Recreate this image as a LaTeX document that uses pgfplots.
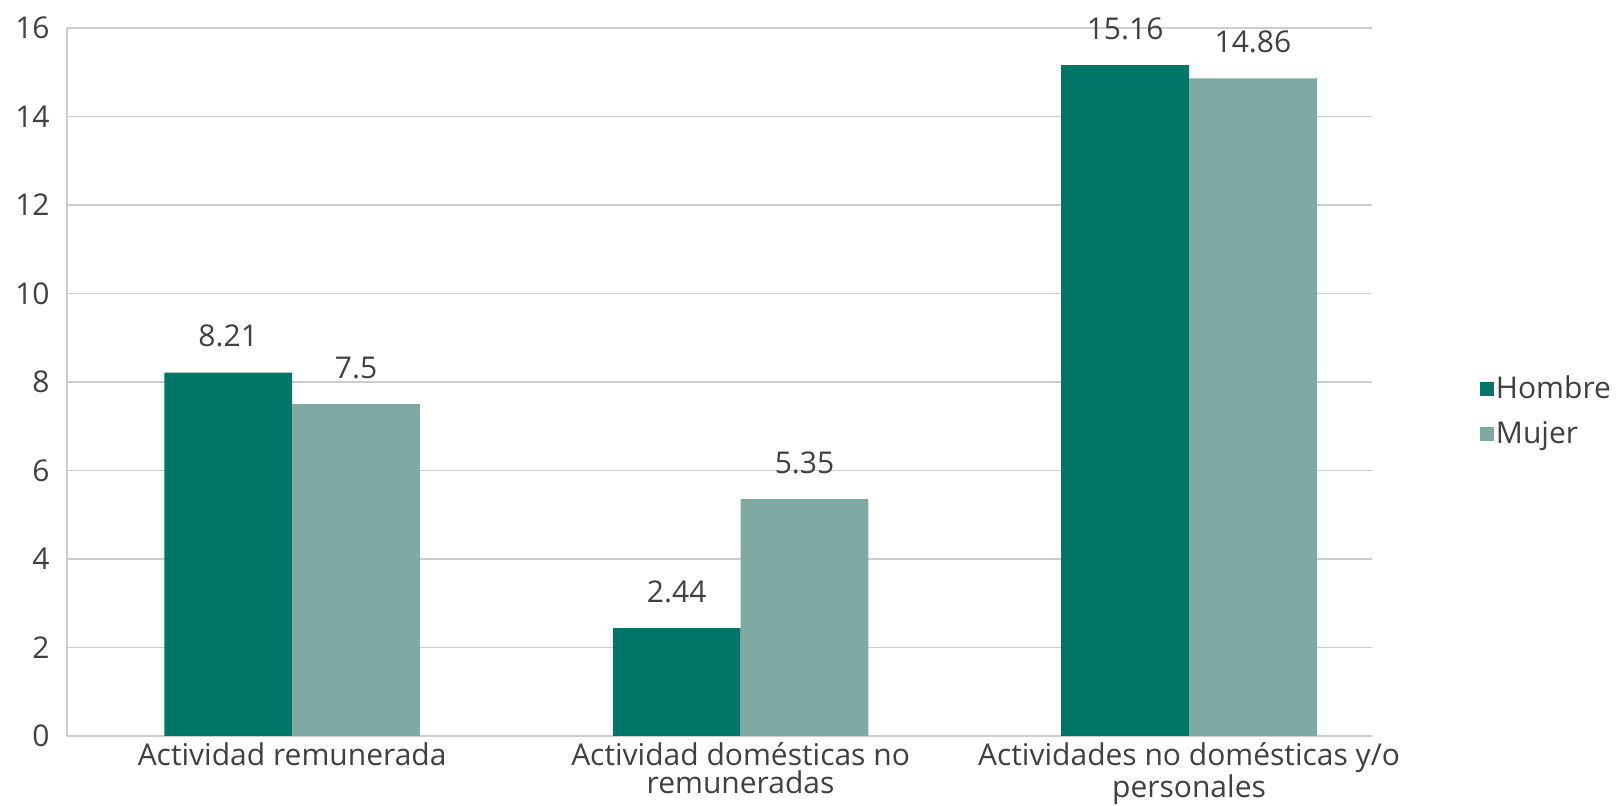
\documentclass[border=0pt]{standalone}
\usepackage{fontspec}
\setmainfont{Open Sans}
\usepackage{pgfplots}
\pgfplotsset{compat=1.18}
\definecolor{hombre}{RGB}{0,118,104}
\definecolor{mujer}{RGB}{127,170,164}
\definecolor{txt}{RGB}{64,64,64}
\definecolor{gridc}{RGB}{205,205,205}
\newcommand{\lblfont}{\fontsize{15}{14}\selectfont}
\begin{document}
\begin{tikzpicture}
\begin{axis}[
    at={(0pt,0pt)}, anchor=south west,
    scale only axis,
    width=652.5pt, height=354pt,
    xmin=-0.502, xmax=2.408,
    ymin=0, ymax=16,
    ytick={0,2,...,16},
    xtick={0,1,2},
    xticklabels={Actividad remunerada,{Actividad domésticas no\\remuneradas},{Actividades no domésticas y/o\\personales}},
    axis lines*=left,
    axis line style={gridc, line width=0.8pt},
    major tick length=0pt,
    ymajorgrids,
    grid style={gridc, line width=0.8pt},
    /pgf/number format/assume math mode=true,
    /pgf/number format/.cd, fixed, precision=2, /pgfplots/.cd,
    yticklabel style={font=\lblfont, text=txt, inner sep=0pt, xshift=-8.5pt},
    xticklabel style={font=\lblfont, text=txt, inner sep=0pt, yshift=-3pt, align=center},
    ybar, bar width=0.285,
    nodes near coords,
    nodes near coords style={font=\lblfont, text=txt, anchor=south, inner sep=0pt, yshift=12.5pt},
    legend style={at={(1.0828,0.459)}, anchor=west, draw=none, fill=none,
        inner sep=0pt, font=\lblfont, text=txt, row sep=8.5pt,
        nodes={inner sep=0.75pt}},
    legend cell align=left,
    legend image code/.code={\fill[#1] (0pt,-3.5pt) rectangle (7pt,3.5pt);},
]
\addplot[fill=hombre, draw=none, bar shift=-0.1425] coordinates {(0,8.21) (1,2.44) (2,15.16)};
\addlegendentry{Hombre}
\addplot[fill=mujer, draw=none, bar shift=0.1425] coordinates {(0,7.5) (1,5.35) (2,14.86)};
\addlegendentry{Mujer}
\end{axis}
\pgfresetboundingbox
\path (-33.5pt,-35pt) rectangle (778.5pt,368pt);
\end{tikzpicture}
\end{document}
